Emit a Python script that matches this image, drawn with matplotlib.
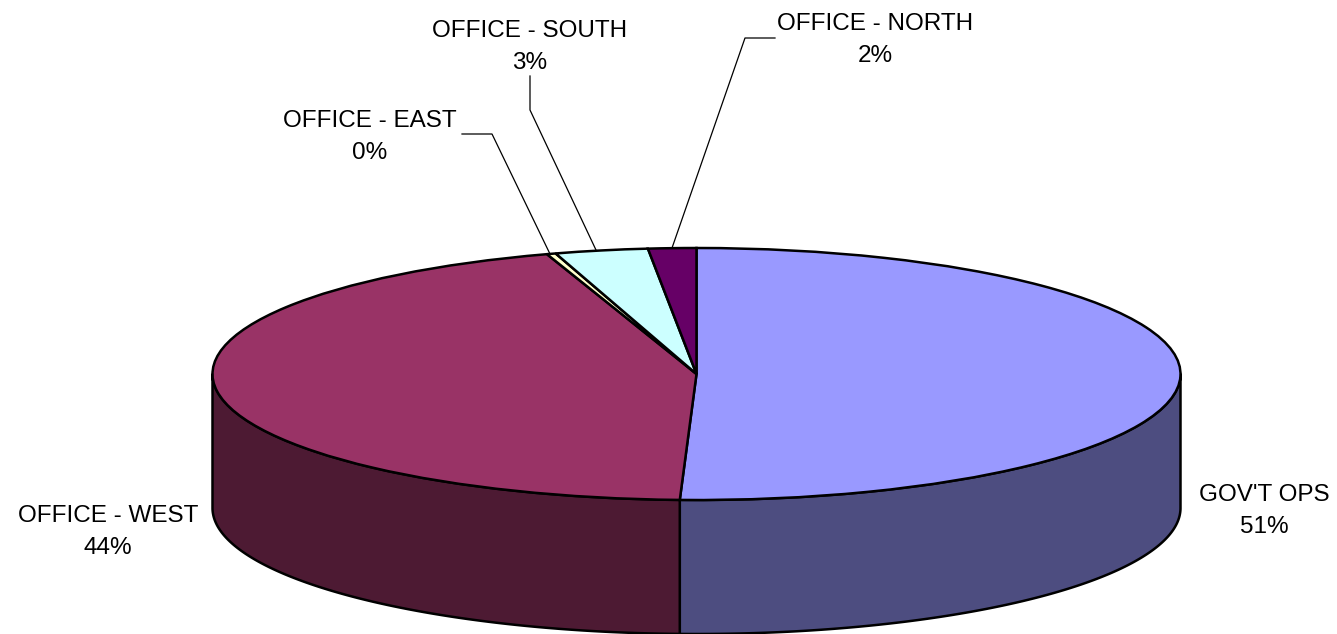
#!/usr/bin/env python3
import numpy as np
import matplotlib
matplotlib.use('Agg')
import matplotlib.pyplot as plt

labels = ["GOV'T OPS", "OFFICE - WEST", "OFFICE - EAST", "OFFICE - SOUTH", "OFFICE - NORTH"]
percents = ["51%", "44%", "0%", "3%", "2%"]
values = [50.55, 44.45, 0.3, 3.1, 1.6]
colors = ['#9999FF', '#993366', '#FFFFCC', '#CCFFFF', '#660066']
side_colors = ['#4D4D80', '#4D1A33', '#808066', '#668080', '#330033']

W, H = 1337, 634
CX, CY, RX, RY, DEPTH = 696.5, 374, 484, 126, 134
plt.rcParams['font.family'] = ['Liberation Sans', 'DejaVu Sans']

fig = plt.figure(figsize=(W / 100, H / 100), dpi=100)
ax = fig.add_axes([0, 0, 1, 1])

# top of the pie, squashed by the axis limits below
ax.pie(values, colors=colors, startangle=90, counterclock=False, radius=1,
       wedgeprops=dict(edgecolor='k', linewidth=1.8))
ax.set_aspect('auto')
ax.set_xlim(-CX / RX, (W - CX) / RX)
ax.set_ylim((CY - H) / RY, CY / RY)
ax.axis('off')
d = DEPTH / RY

# walls, only the front half of the ellipse shows
stops = 90 - np.cumsum([0] + values) * 3.6
for i in range(len(values)):
    a1, a2 = stops[i], stops[i + 1]
    lo, hi = max(a2, -180), min(a1, 0)
    if lo >= hi:
        continue
    t = np.radians(np.linspace(hi, lo, 200))
    x, y = np.cos(t), np.sin(t)
    ax.fill(np.r_[x, x[::-1]], np.r_[y, y[::-1] - d], fc=side_colors[i], ec='k',
            lw=1.8, zorder=0, joinstyle='round')

def px(x, y):
    return (x - CX) / RX, (CY - y) / RY

# label centre positions and leader lines, in picture pixels
label_pos = [(1264, 511), (108, 532), (369.5, 137), (530, 47), (875, 40)]
leaders = [None, None,
           [(550, 254), (492, 134), (462, 134)],
           [(596, 250), (530, 110), (530, 76)],
           [(672, 248), (745, 38), (775, 38)]]

for i in range(len(labels)):
    tx, ty = px(*label_pos[i])
    ax.text(tx, ty, labels[i] + "\n" + percents[i], ha='center', va='center',
            fontsize=17.5, linespacing=1.56, color='k')
    if leaders[i]:
        pts = [px(*p) for p in leaders[i]]
        ax.plot([p[0] for p in pts], [p[1] for p in pts], color='k', lw=0.9)

fig.savefig('out.png', dpi=100)
